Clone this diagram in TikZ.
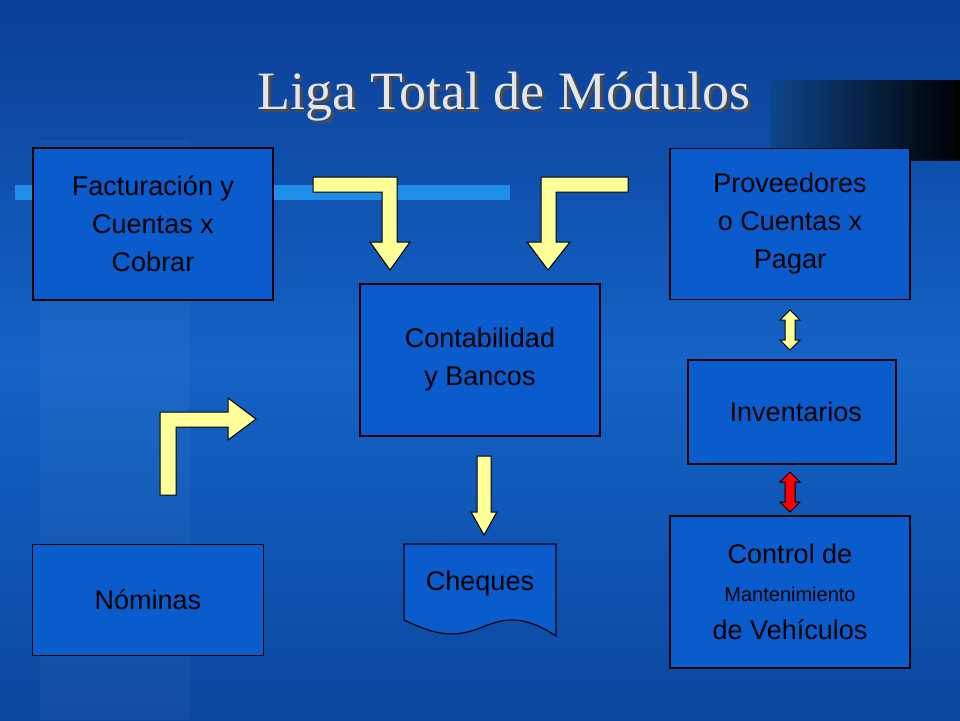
\documentclass[tikz,border=0pt]{standalone}
\usepackage{fontspec}
\setmainfont{Liberation Sans}
\newfontfamily\titlefont{Liberation Serif}
\definecolor{boxblue}{HTML}{0A5CCC}
\definecolor{bgtop}{HTML}{0B3E96}
\definecolor{bgmid}{HTML}{1463C6}
\definecolor{bgbot}{HTML}{0A47A0}
\definecolor{barblue}{HTML}{1E8EE8}
\definecolor{arrowyellow}{HTML}{FFFF99}
\begin{document}
\begin{tikzpicture}[x=1pt, y=-1pt,
  modulo/.style = {draw=black, line width=1.2pt, fill=boxblue, align=center, font=\fontsize{27}{38}\selectfont},
  flecha/.style = {draw=black, line width=1pt, fill=arrowyellow}]
\useasboundingbox (0,0) rectangle (960,720);
% background
\shade[top color=bgtop, bottom color=bgbot, middle color=bgmid] (0,0) rectangle (960,720);
\fill[white, opacity=0.03] (40,140) rectangle (190,720);
\shade[left color=bgmid!70!black, right color=black] (770,80) rectangle (960,160);
\fill[barblue] (15,185) rectangle (510,200);
% title
\node[font=\titlefont\fontsize{54}{60}\selectfont, text=black!70] (sombra) at (507,100) {Liga Total de Módulos};
\node[font=\titlefont\fontsize{54}{60}\selectfont, text=white!80!gray] (titulo) at (504,97) {Liga Total de Módulos};
% modules
\node[modulo, minimum width=240pt, minimum height=152pt] (fact) at (153,224) {Facturación y\\Cuentas x\\Cobrar};
\node[modulo, minimum width=240pt, minimum height=152pt] (conta) at (480,360) {Contabilidad\\y Bancos};
\node[modulo, minimum width=240pt, minimum height=151pt] (prov) at (790,224) {Proveedores\\o Cuentas x\\Pagar};
\node[modulo, minimum width=208pt, minimum height=104pt] (inv) at (792,412) {\ Inventarios};
\node[modulo, minimum width=240pt, minimum height=152pt] (mant) at (790,592) {Control de\\{\fontsize{20}{38}\selectfont Mantenimiento}\\de Vehículos};
\node[modulo, minimum width=231pt, minimum height=111pt] (nom) at (148,600) {Nóminas};
% cheques (document)
\draw[line width=1.2pt, fill=boxblue] (404,544) -- (556,544) -- (556,636)
  .. controls (520,612) and (500,620) .. (480,628)
  .. controls (450,640) and (430,632) .. (404,620) -- cycle;
\node[font=\fontsize{27}{32}\selectfont] (cheq) at (480,584) {Cheques};
% arrows
\draw[flecha] (313,177) -- (397,177) -- (397,242) -- (410,242) -- (390,270) -- (370,242) -- (382,242) -- (382,192) -- (313,192) -- cycle;
\draw[flecha] (628,177) -- (541,177) -- (541,242) -- (527,242) -- (548,270) -- (570,242) -- (556,242) -- (556,192) -- (628,192) -- cycle;
\draw[flecha] (160,495) -- (160,412) -- (228,412) -- (228,398) -- (256,419) -- (228,440) -- (228,427) -- (176,427) -- (176,495) -- cycle;
\draw[flecha] (477,456) -- (491,456) -- (491,512) -- (497,512) -- (484,535) -- (471,512) -- (477,512) -- cycle;
\draw[flecha] (790,310) -- (800,320) -- (795,320) -- (795,340) -- (800,340) -- (790,350) -- (780,340) -- (785,340) -- (785,320) -- (780,320) -- cycle;
\draw[flecha, fill=red] (790,472) -- (800,482) -- (795,482) -- (795,502) -- (800,502) -- (790,512) -- (780,502) -- (785,502) -- (785,482) -- (780,482) -- cycle;
\end{tikzpicture}
\end{document}
